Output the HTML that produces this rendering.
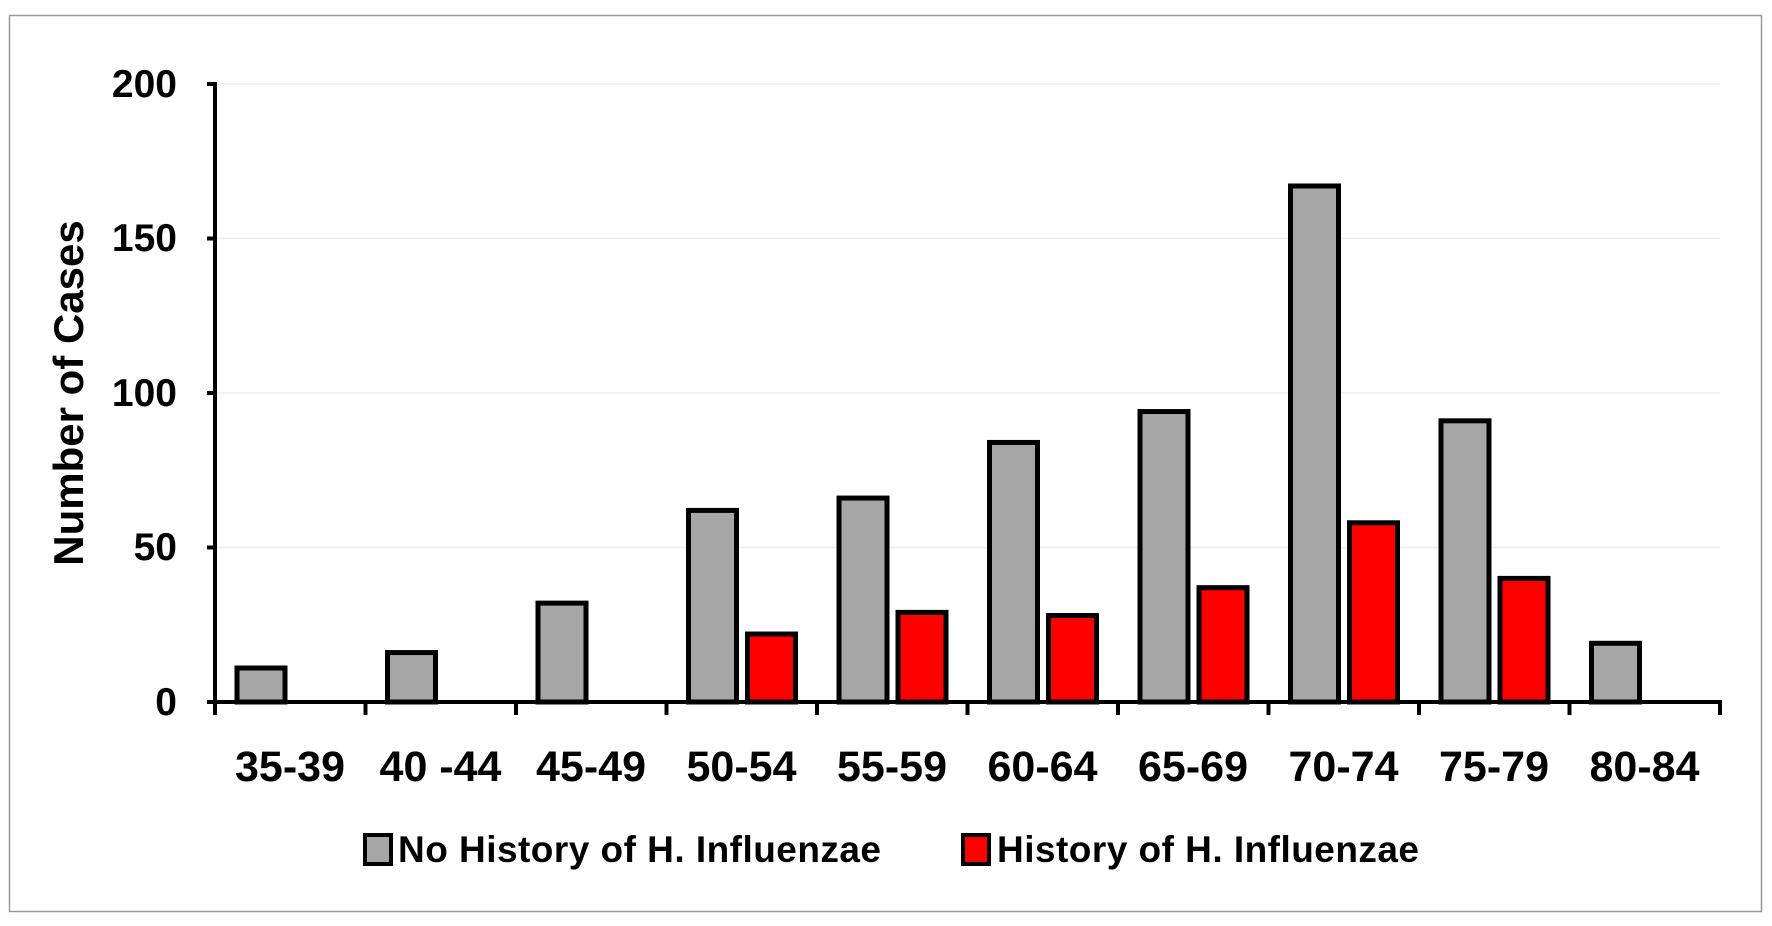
<!DOCTYPE html>
<html><head><style>
body{margin:0;background:#fff;}
text{font-family:"Liberation Sans",sans-serif;font-weight:bold;fill:#000;}
</style></head><body>
<svg width="1772" height="921" xmlns="http://www.w3.org/2000/svg">
<rect x="9.5" y="15.5" width="1752" height="896" fill="#fff" stroke="#999" stroke-width="1.5"/>
<g stroke="#eee" stroke-width="1.5">
<line x1="215" y1="84" x2="1720" y2="84"/>
<line x1="215" y1="238.5" x2="1720" y2="238.5"/>
<line x1="215" y1="393" x2="1720" y2="393"/>
<line x1="215" y1="547.5" x2="1720" y2="547.5"/>
</g>
<g id="bars" stroke="#000" stroke-width="5"></g>
<g stroke="#000" stroke-width="4">
<line x1="215" y1="82" x2="215" y2="714"/>
<line x1="207" y1="84" x2="215" y2="84"/>
<line x1="207" y1="238.5" x2="215" y2="238.5"/>
<line x1="207" y1="393" x2="215" y2="393"/>
<line x1="207" y1="547.5" x2="215" y2="547.5"/>
<line x1="207" y1="702" x2="1722" y2="702"/>
</g>
<g id="ticks" stroke="#000" stroke-width="4"></g>
<g font-size="39" text-anchor="end">
<text x="177" y="97">200</text>
<text x="177" y="251">150</text>
<text x="177" y="406">100</text>
<text x="177" y="560">50</text>
<text x="177" y="715">0</text>
</g>
<text transform="translate(83,393) rotate(-90)" font-size="42" text-anchor="middle">Number of Cases</text>
<g id="xl" font-size="43" text-anchor="middle"></g>
<rect x="365" y="835" width="26" height="29" fill="#a6a6a6" stroke="#000" stroke-width="4"/>
<text x="398" y="862" font-size="37" textLength="483">No History of H. Influenzae</text>
<rect x="963" y="835" width="26" height="29" fill="#ff0000" stroke="#000" stroke-width="4"/>
<text x="997" y="862" font-size="37" textLength="422">History of H. Influenzae</text>
</svg>
<script>
var g=[11,16,32,62,66,84,94,167,91,19],r=[null,null,null,22,29,28,37,58,40,null];
var labs=["35-39","40 -44","45-49","50-54","55-59","60-64","65-69","70-74","75-79","80-84"];
var ns="http://www.w3.org/2000/svg",B=document.getElementById('bars'),T=document.getElementById('ticks'),X=document.getElementById('xl');
function rect(x,v,c){var e=document.createElementNS(ns,'rect');var h=v*3.09;e.setAttribute('x',x);e.setAttribute('y',702-h);e.setAttribute('width',48);e.setAttribute('height',h);e.setAttribute('fill',c);B.appendChild(e);}
for(var i=0;i<10;i++){var s=215+150.5*i;rect(s+22,g[i],'#a6a6a6');if(r[i]!=null)rect(s+81,r[i],'#ff0000');
var t=document.createElementNS(ns,'text');t.setAttribute('x',s+75);t.setAttribute('y',781);t.textContent=labs[i];X.appendChild(t);}
for(var i=0;i<=10;i++){var l=document.createElementNS(ns,'line');var x=215+150.5*i;l.setAttribute('x1',x);l.setAttribute('x2',x);l.setAttribute('y1',702);l.setAttribute('y2',715);T.appendChild(l);}
</script>
</body></html>
